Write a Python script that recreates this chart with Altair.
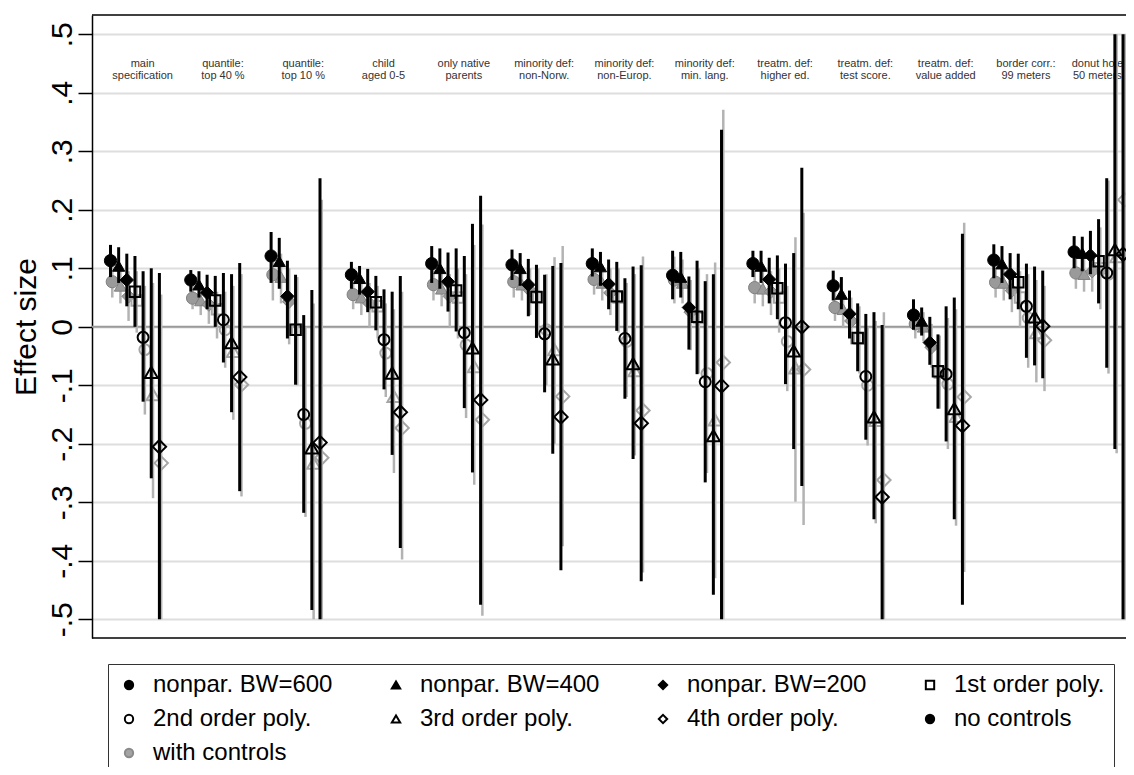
import altair as alt
import pandas as pd

# ---------------- data ----------------
group_labels = ["main\nspecification", "quantile:\ntop 40 %", "quantile:\ntop 10 %", "child\naged 0-5",
                "only native\nparents", "minority def:\nnon-Norw.", "minority def:\nnon-Europ.",
                "minority def:\nmin. lang.", "treatm. def:\nhigher ed.", "treatm. def:\ntest score.",
                "treatm. def:\nvalue added", "border corr.:\n99 meters", "donut hole\n50 meters"]

estimators = ["nonpar. BW=600", "nonpar. BW=400", "nonpar. BW=200", "1st order poly.",
              "2nd order poly.", "3rd order poly.", "4th order poly."]

# no controls (black)
est_no = [
    [0.113, 0.104, 0.080, 0.060, -0.018, -0.078, -0.205],
    [0.080, 0.072, 0.058, 0.045, 0.012, -0.027, -0.086],
    [0.121, 0.112, 0.052, -0.005, -0.150, -0.207, -0.198],
    [0.089, 0.083, 0.060, 0.042, -0.022, -0.079, -0.146],
    [0.108, 0.100, 0.077, 0.062, -0.010, -0.036, -0.125],
    [0.106, 0.100, 0.072, 0.051, -0.012, -0.055, -0.154],
    [0.108, 0.103, 0.073, 0.052, -0.020, -0.063, -0.165],
    [0.088, 0.085, 0.033, 0.017, -0.094, -0.186, -0.101],
    [0.108, 0.104, 0.081, 0.066, 0.007, -0.041, 0.000],
    [0.070, 0.056, 0.022, -0.019, -0.085, -0.154, -0.291],
    [0.020, 0.010, -0.027, -0.076, -0.081, -0.140, -0.169],
    [0.114, 0.108, 0.090, 0.076, 0.035, 0.017, 0.001],
    [0.128, 0.126, 0.122, 0.112, 0.092, 0.132, 0.124],
]
lo_no = [
    [0.085, 0.075, 0.035, 0.000, -0.128, -0.259, -0.500],
    [0.060, 0.050, 0.030, 0.000, -0.061, -0.146, -0.281],
    [0.075, 0.065, -0.020, -0.099, -0.318, -0.484, -0.500],
    [0.065, 0.055, 0.025, -0.006, -0.107, -0.219, -0.378],
    [0.075, 0.065, 0.026, -0.008, -0.139, -0.249, -0.475],
    [0.080, 0.070, 0.018, -0.019, -0.112, -0.217, -0.416],
    [0.086, 0.070, 0.030, -0.007, -0.123, -0.226, -0.435],
    [0.047, 0.050, -0.039, -0.081, -0.266, -0.458, -0.500],
    [0.085, 0.075, 0.040, 0.013, -0.098, -0.209, -0.272],
    [0.045, 0.030, -0.020, -0.076, -0.193, -0.329, -0.500],
    [-0.005, -0.015, -0.065, -0.140, -0.196, -0.329, -0.475],
    [0.083, 0.075, 0.047, 0.030, -0.053, -0.066, -0.088],
    [0.100, 0.095, 0.090, 0.040, -0.070, -0.209, -0.500],
]
hi_no = [
    [0.140, 0.136, 0.125, 0.121, 0.095, 0.100, 0.092],
    [0.097, 0.095, 0.089, 0.087, 0.092, 0.090, 0.109],
    [0.162, 0.152, 0.113, 0.089, 0.020, 0.063, 0.254],
    [0.111, 0.104, 0.099, 0.087, 0.064, 0.060, 0.087],
    [0.138, 0.134, 0.127, 0.134, 0.121, 0.176, 0.224],
    [0.132, 0.126, 0.116, 0.106, 0.089, 0.104, 0.109],
    [0.134, 0.128, 0.115, 0.111, 0.083, 0.103, 0.105],
    [0.130, 0.128, 0.086, 0.113, 0.078, 0.090, 0.337],
    [0.130, 0.130, 0.118, 0.122, 0.108, 0.126, 0.272],
    [0.096, 0.085, 0.062, 0.040, 0.022, 0.025, 0.003],
    [0.047, 0.033, 0.017, -0.013, 0.035, 0.050, 0.159],
    [0.141, 0.138, 0.126, 0.125, 0.108, 0.103, 0.096],
    [0.155, 0.154, 0.164, 0.184, 0.254, 0.500, 0.500],
]
# with controls (gray)
est_w = [
    [0.077, 0.070, 0.052, 0.045, -0.039, -0.116, -0.233],
    [0.049, 0.045, 0.038, 0.030, -0.005, -0.042, -0.099],
    [0.089, 0.085, 0.043, -0.005, -0.165, -0.233, -0.224],
    [0.055, 0.050, 0.040, 0.035, -0.045, -0.119, -0.173],
    [0.072, 0.065, 0.052, 0.050, -0.031, -0.068, -0.159],
    [0.077, 0.072, 0.062, 0.050, -0.005, -0.039, -0.119],
    [0.081, 0.075, 0.058, 0.050, -0.025, -0.075, -0.143],
    [0.080, 0.075, 0.025, 0.015, -0.080, -0.159, -0.061],
    [0.067, 0.065, 0.060, 0.050, -0.025, -0.070, -0.073],
    [0.033, 0.030, 0.010, -0.020, -0.100, -0.160, -0.262],
    [0.005, 0.000, -0.035, -0.078, -0.098, -0.153, -0.120],
    [0.076, 0.075, 0.062, 0.050, 0.015, -0.010, -0.023],
    [0.092, 0.090, 0.095, 0.100, 0.090, 0.120, 0.217],
]
lo_w = [
    [0.050, 0.040, 0.010, -0.010, -0.150, -0.293, -0.500],
    [0.030, 0.020, 0.005, -0.020, -0.070, -0.159, -0.290],
    [0.045, 0.040, -0.030, -0.100, -0.325, -0.500, -0.500],
    [0.030, 0.020, 0.000, -0.020, -0.120, -0.250, -0.398],
    [0.045, 0.035, 0.000, -0.020, -0.156, -0.270, -0.494],
    [0.050, 0.045, 0.020, -0.010, -0.100, -0.200, -0.375],
    [0.055, 0.045, 0.020, -0.010, -0.120, -0.220, -0.420],
    [0.040, 0.040, -0.040, -0.080, -0.250, -0.430, -0.500],
    [0.040, 0.035, 0.020, -0.010, -0.110, -0.299, -0.339],
    [0.010, 0.000, -0.030, -0.080, -0.203, -0.336, -0.500],
    [-0.020, -0.025, -0.070, -0.140, -0.209, -0.340, -0.419],
    [0.050, 0.045, 0.025, 0.000, -0.070, -0.095, -0.110],
    [0.065, 0.060, 0.060, 0.030, -0.080, -0.216, -0.500],
]
hi_w = [
    [0.105, 0.100, 0.095, 0.095, 0.070, 0.075, 0.055],
    [0.070, 0.070, 0.065, 0.060, 0.060, 0.070, 0.090],
    [0.130, 0.125, 0.100, 0.085, 0.000, 0.040, 0.217],
    [0.080, 0.075, 0.075, 0.070, 0.040, 0.030, 0.060],
    [0.100, 0.095, 0.090, 0.100, 0.090, 0.140, 0.175],
    [0.105, 0.100, 0.100, 0.100, 0.090, 0.119, 0.138],
    [0.110, 0.105, 0.100, 0.100, 0.075, 0.090, 0.120],
    [0.120, 0.115, 0.080, 0.100, 0.090, 0.110, 0.371],
    [0.095, 0.095, 0.095, 0.100, 0.070, 0.153, 0.195],
    [0.060, 0.060, 0.050, 0.035, 0.000, 0.010, 0.025],
    [0.030, 0.025, 0.005, -0.015, 0.015, 0.030, 0.178],
    [0.100, 0.100, 0.100, 0.095, 0.090, 0.080, 0.070],
    [0.120, 0.120, 0.130, 0.170, 0.250, 0.500, 0.500],
]

legend_entries = estimators + ["no controls", "with controls"]

# ---------------- styling ----------------
shapes = ["circle", "triangle-up", "diamond", "square", "circle", "triangle-up", "diamond"]
filled = [True, True, True, False, False, False, False]
sizes = [150, 150, 180, 110, 120, 170, 180]
legend_shapes = shapes + ["circle", "circle"]
legend_fills = ["black", "black", "black", "white", "white", "white", "white", "black", "#a3a3a3"]
legend_strokes = ["black"] * 8 + ["#8a8a8a"]
legend_sizes = [70, 70, 90, 60, 60, 80, 90, 220, 220]

K_STEP = 0.1015
CTRL_SHIFT = 0.022
W, H = 1034, 623
FONT = "Liberation Sans"

rows = []
for g in range(len(group_labels)):
    for k in range(7):
        rows.append(dict(g=g, k=k, ctrl="no", x=g + k * K_STEP,
                         est=est_no[g][k], lo=lo_no[g][k], hi=hi_no[g][k]))
        rows.append(dict(g=g, k=k, ctrl="with", x=g + k * K_STEP + CTRL_SHIFT,
                         est=est_w[g][k], lo=lo_w[g][k], hi=hi_w[g][k]))
df = pd.DataFrame(rows)

n_groups = len(group_labels)
lab_x = [g + 0.40 for g in range(n_groups)]
lab_x[-1] = n_groups - 1 + 0.29   # keep the last label inside the plot
lab_df = pd.DataFrame({"x": lab_x, "y": [0.4495] * n_groups, "label": group_labels})

xscale = alt.Scale(domain=[-0.2304, 12.646], nice=False, zero=False)
yscale = alt.Scale(domain=[-0.532, 0.533], nice=False, zero=False)
yaxis = alt.Axis(
    values=[-0.5, -0.4, -0.3, -0.2, -0.1, 0, 0.1, 0.2, 0.3, 0.4, 0.5],
    labelExpr="datum.value == 0 ? '0' : (datum.value < 0 ? '-' : '') + replace(format(abs(datum.value), '.1f'), '0.', '.')",
    labelAngle=270, labelAlign="center", labelBaseline="bottom",
    labelFontSize=30, labelFont=FONT, labelColor="black", labelPadding=1,
    tickSize=14, tickWidth=1.5, tickColor="black",
    domainColor="black", domainWidth=1.5,
    grid=True, gridColor="#dedede", gridWidth=1.8,
    title="Effect size", titleFont=FONT, titleFontSize=30, titleFontWeight="normal",
    titleColor="black", titlePadding=6,
)

def X(field):
    return alt.X(field, scale=xscale, axis=None)

def Y(field):
    return alt.Y(field, scale=yscale, axis=yaxis, title="Effect size")

base = alt.Chart(df)

layers = []
# zero line
layers.append(alt.Chart(pd.DataFrame({"z": [0.0]})).mark_rule(color="#9a9a9a", strokeWidth=2)
              .encode(y=Y("z:Q")))
# group labels
layers.append(alt.Chart(lab_df).mark_text(lineBreak="\n", fontSize=11, font=FONT, color="#333333",
                                          align="center", baseline="middle", lineHeight=12.3, clip=True)
              .encode(x=X("x:Q"), y=Y("y:Q"), text="label:N"))

# gray (with controls)
layers.append(base.transform_filter("datum.ctrl == 'with'").mark_rule(color="#b3b3b3", strokeWidth=2.5, clip=True)
              .encode(x=X("x:Q"), y=Y("lo:Q"), y2="hi:Q"))
for k in range(7):
    if filled[k]:
        mk = dict(fill="#9a9a9a", stroke="#808080", strokeWidth=1, fillOpacity=1)
    else:
        mk = dict(fill="transparent", stroke="#a6a6a6", strokeWidth=2)
    layers.append(base.transform_filter(f"datum.ctrl == 'with' && datum.k == {k}")
                  .mark_point(shape=shapes[k], size=sizes[k], opacity=1, clip=True, **mk)
                  .encode(x=X("x:Q"), y=Y("est:Q")))

# black (no controls)
layers.append(base.transform_filter("datum.ctrl == 'no'").mark_rule(color="black", strokeWidth=3, clip=True)
              .encode(x=X("x:Q"), y=Y("lo:Q"), y2="hi:Q"))
for k in range(7):
    if filled[k]:
        mk = dict(fill="black", stroke="black", strokeWidth=1, fillOpacity=1)
    else:
        mk = dict(fill="transparent", stroke="black", strokeWidth=2)
    layers.append(base.transform_filter(f"datum.ctrl == 'no' && datum.k == {k}")
                  .mark_point(shape=shapes[k], size=sizes[k], opacity=1, clip=True, **mk)
                  .encode(x=X("x:Q"), y=Y("est:Q")))

# frame lines (top and bottom)
layers.append(alt.Chart(pd.DataFrame({"f": [0]})).mark_rule(color="black", strokeWidth=1.5)
              .encode(x=alt.value(0), x2=alt.value(W), y=alt.value(0)))
layers.append(alt.Chart(pd.DataFrame({"f": [0]})).mark_rule(color="black", strokeWidth=1.5)
              .encode(x=alt.value(0), x2=alt.value(W), y=alt.value(H)))

# legend-only layer
leg = alt.Legend(orient="none", legendX=16, legendY=649, columns=4, direction="horizontal", title=None,
                 labelFontSize=24, labelFont=FONT, labelColor="black", labelOffset=12,
                 labelLimit=400, columnPadding=51, rowPadding=10, padding=9,
                 strokeColor="#333333", fillColor="white", symbolStrokeWidth=2,
                 symbolOpacity=1, gridAlign="all")
leg_df = pd.DataFrame({"entry": legend_entries})
layers.append(alt.Chart(leg_df).transform_filter("false").mark_point(opacity=1)
              .encode(
                  shape=alt.Shape("entry:N", scale=alt.Scale(domain=legend_entries, range=legend_shapes), legend=leg),
                  fill=alt.Fill("entry:N", scale=alt.Scale(domain=legend_entries, range=legend_fills), legend=leg),
                  stroke=alt.Stroke("entry:N", scale=alt.Scale(domain=legend_entries, range=legend_strokes), legend=leg),
                  size=alt.Size("entry:N", scale=alt.Scale(domain=legend_entries, range=legend_sizes), legend=leg),
              ))

chart = alt.layer(*layers).properties(
    width=W, height=H,
    autosize=alt.AutoSizeParams(type="none"),
    padding={"left": 84, "top": 7, "right": 0, "bottom": 129},
    background="white",
).configure_view(stroke="transparent")

chart.save("out.html", embed_options={"renderer": "svg", "actions": False})
